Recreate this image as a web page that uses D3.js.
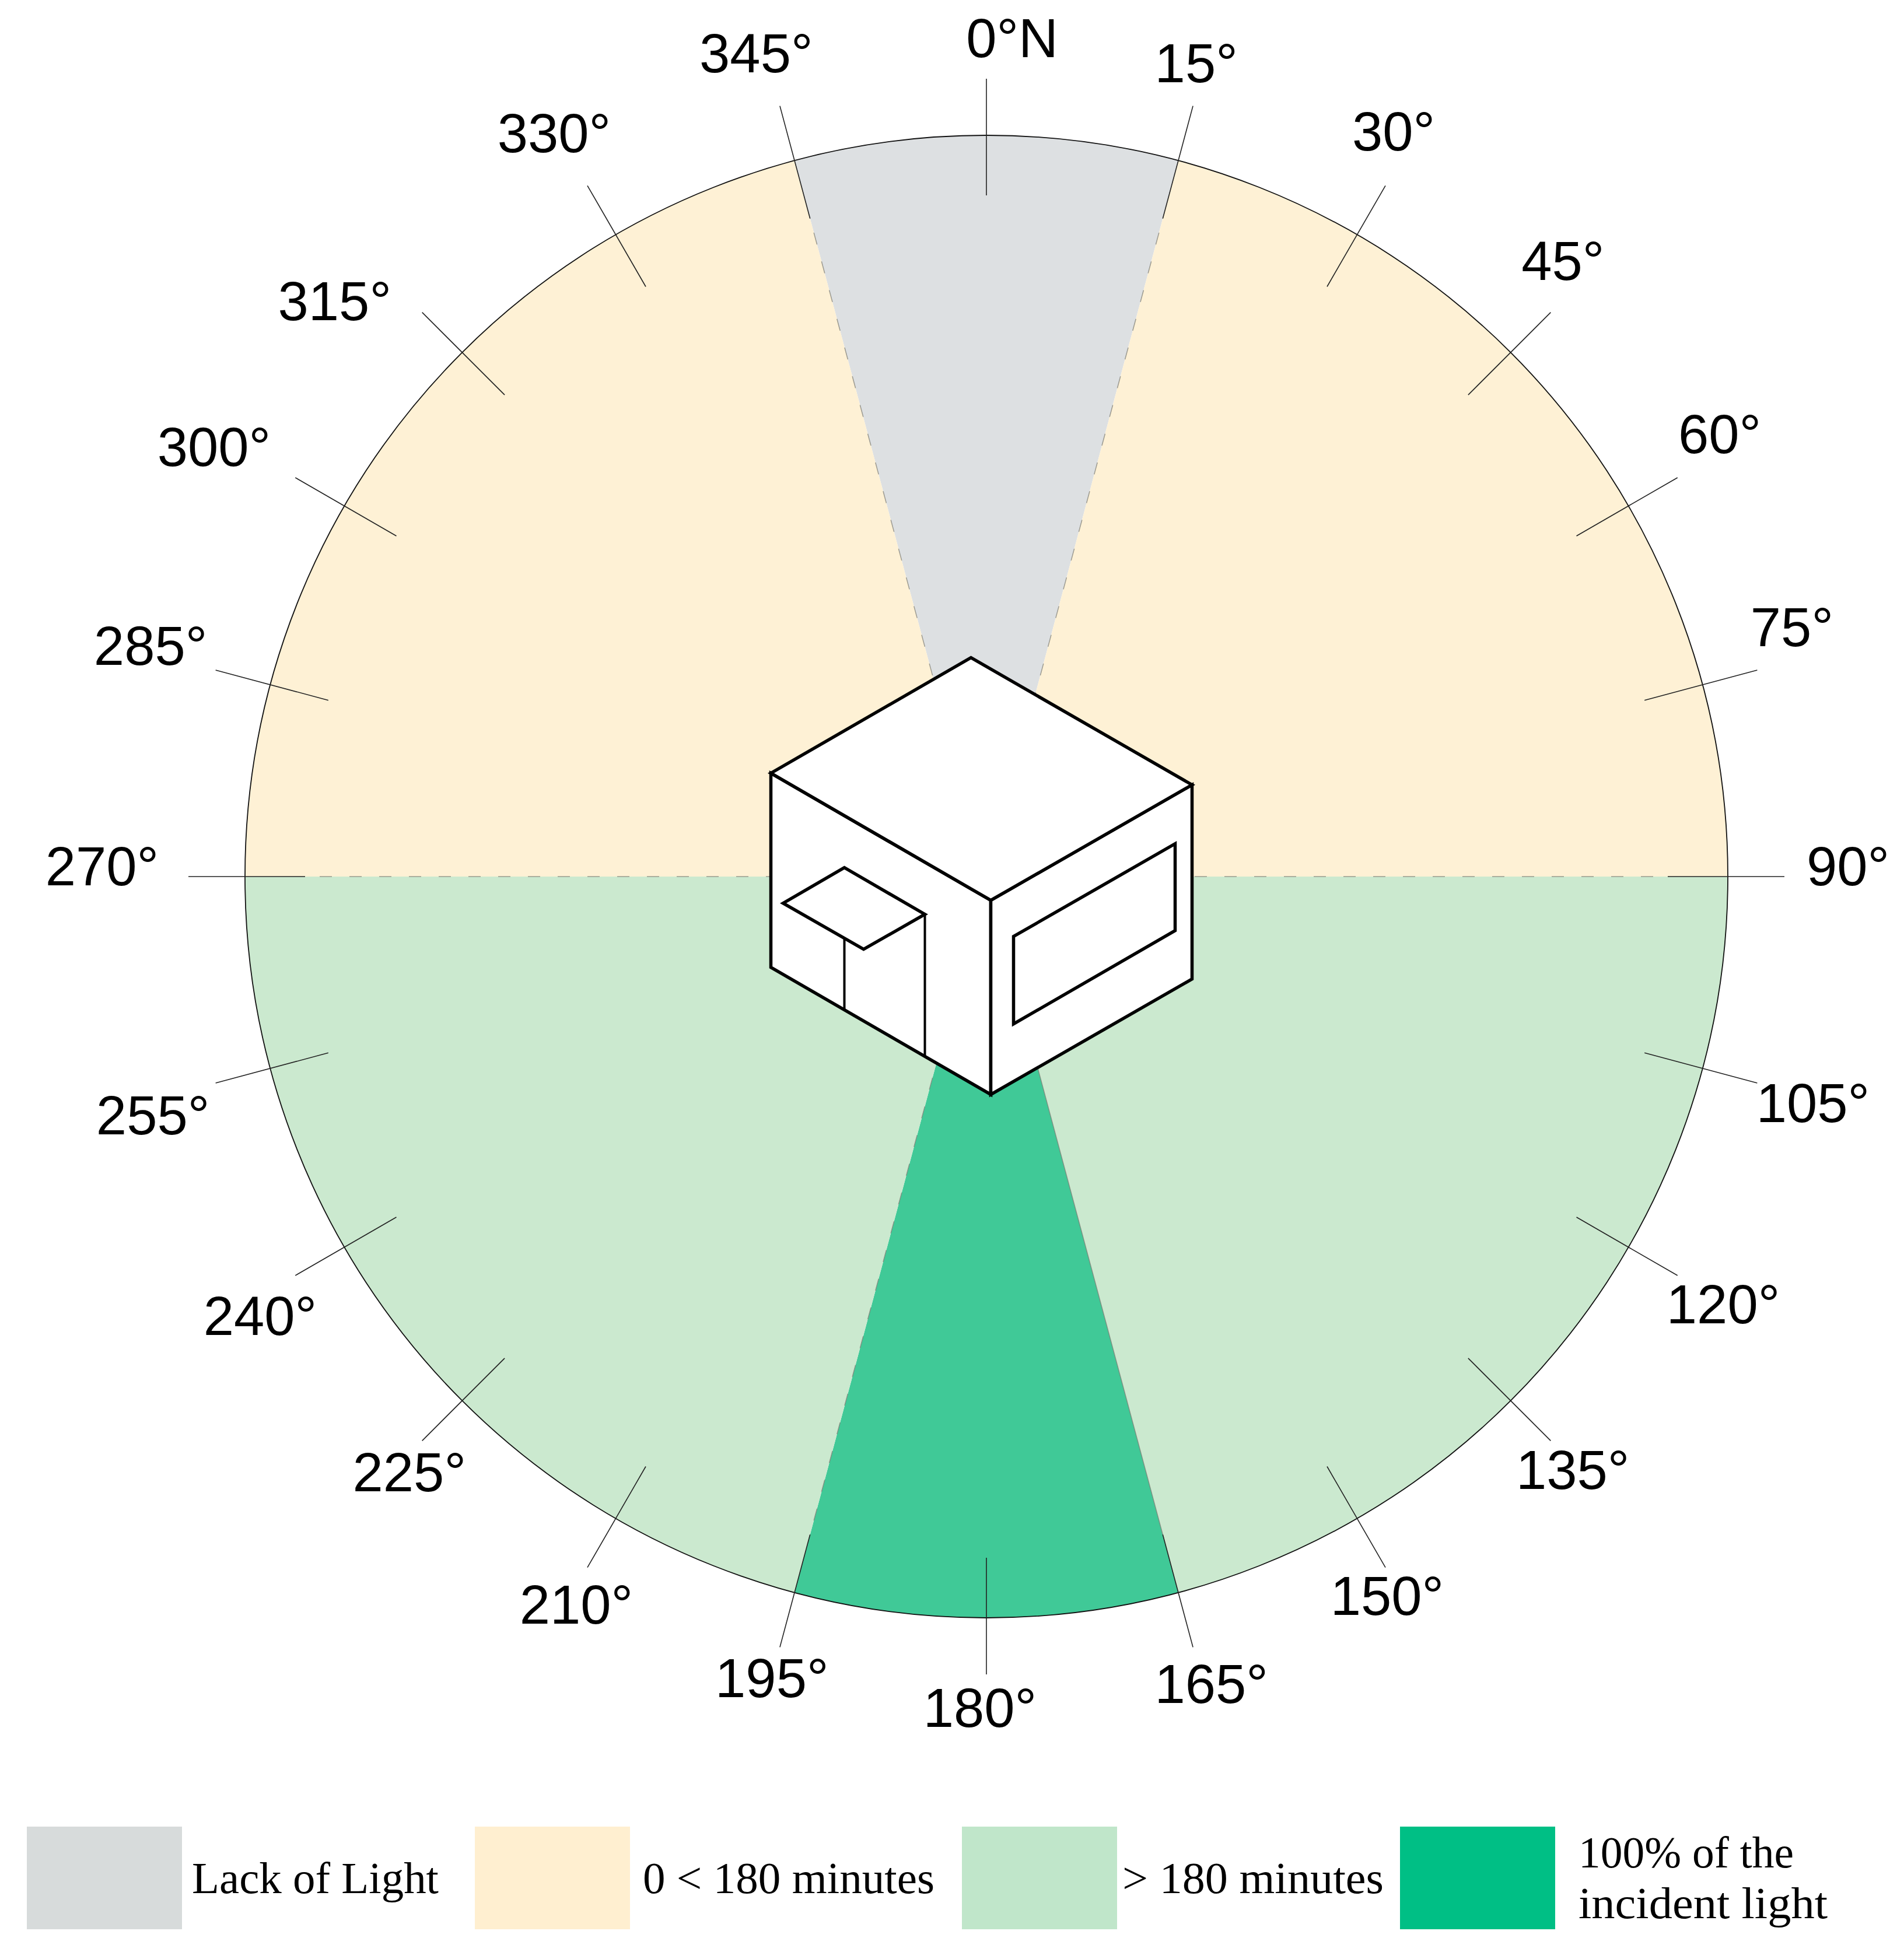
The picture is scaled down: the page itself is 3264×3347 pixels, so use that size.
<!DOCTYPE html>
<html lang="en">
<head>
  <meta charset="UTF-8" />
  <title>Incident light by orientation</title>
  <script src="https://d3js.org/d3.v7.min.js"></script>
  <style>
    html, body {
      margin: 0;
      background: #fff;
    }
    svg {
      display: block;
    }
    .tick-label {
      font-family: "Liberation Sans", Arial, sans-serif;
      font-size: 94px;
      text-anchor: middle;
    }
    .legend-label {
      font-family: "Liberation Serif", serif;
      font-size: 77px;
    }
    .building path {
      fill: #fff;
      stroke: #000;
      stroke-width: 5.5;
      stroke-linejoin: miter;
    }
    .building .thin {
      fill: none;
      stroke-width: 4;
    }
  </style>
</head>
<body>
  <svg id="chart" width="3264" height="3347"></svg>

  <script>
    // sectors, in compass degrees
    const sectorStart = [-15, 15, 90, 165, 195, 270];
    const sectorEnd = [15, 90, 165, 195, 270, 345];
    const sectorClass = ["none", "low", "high", "full", "high", "low"];

    const tickAngles = d3.range(0, 360, 15);
    const tickLabels = ["0°N", "15°", "30°", "45°", "60°", "75°", "90°", "105°", "120°", "135°", "150°", "165°",
      "180°", "195°", "210°", "225°", "240°", "255°", "270°", "285°", "300°", "315°", "330°", "345°"];

    const legendKeys = ["none", "low", "high", "full"];
    const legendLabels = [["Lack of Light"], ["0 < 180 minutes"], ["> 180 minutes"], ["100% of the", "incident light"]];
    const legendWidths = [[423], [500], [448], [369, 427]];

    // the labels were placed by hand in the original, so they sit off the radial line
    const labelNudge = [[44, 5], [-13, -1], [-22, -28], [-30, -35], [10, -36], [-10, -52], [37, -15], [26, 18],
      [16, 16], [-13, 2], [-33, -11], [13, -4], [-11, -12], [5, -14], [17, 4], [29, 6],
      [2, 36], [-38, 39], [-76, -15], [-42, -20], [-77, -14], [-99, 34], [-21, -25], [-22, -18]];

    // seams between sectors: dashed and faint, except the one beside the full-light wedge
    const seamAngles = [-15, 15, 90, 165, 195, 270];
    const seamDash = ["21 30", "21 30", "21 30", null, "21 30", "21 30"];

    // building outline, in icon units
    const roof = [[343, 0], [722, 218], [377, 416], [0, 198]];
    const leftWall = [[0, 198], [377, 416], [377, 749], [0, 531]];
    const rightWall = [[377, 416], [722, 218], [722, 551], [377, 749]];
    const windowPane = [[416, 478], [693, 319], [693, 468], [416, 628]];
    const awning = [[126, 360], [21, 421], [159, 500], [264, 440]];
    const doorEdge = [[264, 440], [264, 683]];
    const doorSplit = [[126, 483], [126, 604]];

    const colors = d3.scaleOrdinal()
      .domain(legendKeys)
      .range(["#dde0e2", "#fef1d5", "#cbe9cf", "#40c997"]);
    const legendColors = d3.scaleOrdinal()
      .domain(legendKeys)
      .range(["#d7dbdb", "#ffefd0", "#c0e6ca", "#00bf85"]);

    const cx = 1691, cy = 1503, radius = 1271;
    const tickInner = 1168, tickOuter = 1368, labelRadius = 1440;
    const angle = d3.scaleLinear().domain([0, 360]).range([0, 2 * Math.PI]);

    const svg = d3.select("#chart");
    const dial = svg.append("g").attr("transform", `translate(${cx},${cy})`);

    const arc = d3.arc().innerRadius(0).outerRadius(radius);

    dial.selectAll("path.sector")
      .data(d3.zip(sectorStart, sectorEnd, sectorClass))
      .join("path")
      .attr("class", "sector")
      .attr("fill", d => colors(d[2]))
      .attr("d", d => arc({ startAngle: angle(d[0]), endAngle: angle(d[1]) }));

    dial.selectAll("line.seam")
      .data(seamAngles)
      .join("line")
      .attr("class", "seam")
      .attr("x2", d => d3.pointRadial(angle(d), tickInner)[0])
      .attr("y2", d => d3.pointRadial(angle(d), tickInner)[1])
      .attr("stroke", "#77776f")
      .attr("stroke-width", 1.5)
      .attr("stroke-opacity", 0.7)
      .attr("stroke-dasharray", (d, i) => seamDash[i]);

    dial.append("circle")
      .attr("r", radius)
      .attr("fill", "none")
      .attr("stroke", "#111")
      .attr("stroke-width", 1.8);

    dial.selectAll("line.tick")
      .data(tickAngles)
      .join("line")
      .attr("class", "tick")
      .attr("x1", d => d3.pointRadial(angle(d), tickInner)[0])
      .attr("y1", d => d3.pointRadial(angle(d), tickInner)[1])
      .attr("x2", d => d3.pointRadial(angle(d), tickOuter)[0])
      .attr("y2", d => d3.pointRadial(angle(d), tickOuter)[1])
      .attr("stroke", "#222")
      .attr("stroke-width", 1.6);

    dial.selectAll("text.tick-label")
      .data(tickAngles)
      .join("text")
      .attr("class", "tick-label")
      .attr("x", (d, i) => d3.pointRadial(angle(d), labelRadius)[0] + labelNudge[i][0])
      .attr("y", (d, i) => d3.pointRadial(angle(d), labelRadius)[1] + labelNudge[i][1])
      .attr("dy", "0.32em")
      .text((d, i) => tickLabels[i]);

    // building
    const line = d3.line().curve(d3.curveLinearClosed);
    const openLine = d3.line();
    const building = svg.append("g")
      .attr("class", "building")
      .attr("transform", "translate(1321.5,1127.7)");

    building.selectAll("path.face")
      .data([leftWall, rightWall, roof, windowPane, awning])
      .join("path")
      .attr("class", "face")
      .attr("d", line);

    building.selectAll("path.thin")
      .data([doorEdge, doorSplit])
      .join("path")
      .attr("class", "thin")
      .attr("d", openLine);

    // legend
    const legendX = d3.scaleOrdinal().domain(legendKeys).range([46, 814, 1649, 2400]);
    const legendTextX = d3.scaleOrdinal().domain(legendKeys).range([329, 1102, 1924, 2706]);

    svg.selectAll("rect.key")
      .data(legendKeys)
      .join("rect")
      .attr("class", "key")
      .attr("x", d => legendX(d))
      .attr("y", 3132)
      .attr("width", 266)
      .attr("height", 176)
      .attr("fill", d => legendColors(d));

    legendKeys.forEach((k, i) => {
      const rows = legendLabels[i];
      const top = rows.length === 1 ? 3246 : 3202;
      rows.forEach((row, j) => {
        svg.append("text")
          .attr("class", "legend-label")
          .attr("x", legendTextX(k))
          .attr("y", top + j * 87)
          .attr("textLength", legendWidths[i][j])
          .attr("lengthAdjust", "spacingAndGlyphs")
          .text(row);
      });
    });
  </script>
</body>
</html>
